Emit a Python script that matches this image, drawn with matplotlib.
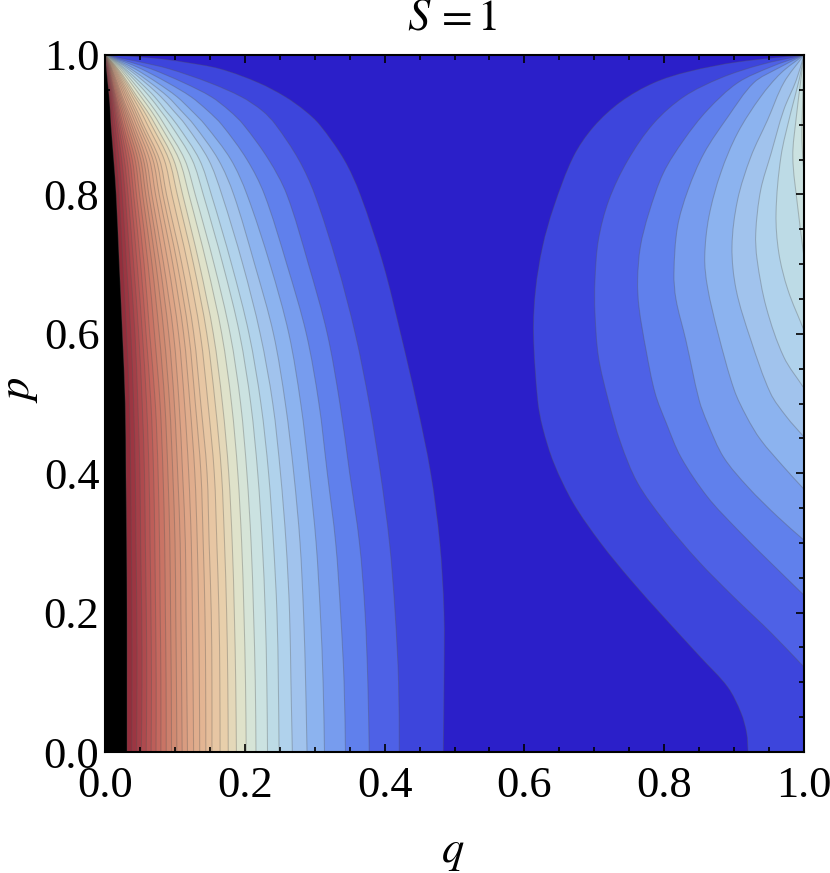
import numpy as np
import matplotlib
matplotlib.use("Agg")
import matplotlib.pyplot as plt
from matplotlib.colors import LinearSegmentedColormap
from matplotlib.path import Path
from matplotlib.patches import PathPatch

plt.rcParams['font.family'] = ['Liberation Serif', 'DejaVu Serif']
plt.rcParams['mathtext.fontset'] = 'stix'

# contour levels read as guide lines on the left side, darkest blue outwards
guide_levels = [1, 2, 3, 4, 5, 6, 7, 8, 10, 12, 15, 19, 24, 28, 31]

# q of each guide contour, one list per row of p
row_p = [0.0, 0.1, 0.2, 0.3, 0.4, 0.5, 0.6, 0.7, 0.8, 0.85, 0.9, 0.92, 0.94, 0.96, 0.98, 0.99, 0.995, 1.0]
q_p000 = [.484, .421, .378, .344, .314, .289, .268, .249, .216, .188, .153, .118, .080, .052, .0315]
q_p010 = [.485, .420, .376, .342, .312, .287, .266, .248, .215, .187, .153, .117, .080, .053, .0315]
q_p020 = [.485, .415, .372, .337, .308, .284, .264, .246, .2125, .185, .152, .116, .079, .0525, .0315]
q_p030 = [.479, .407, .364, .330, .302, .279, .259, .241, .209, .182, .149, .115, .078, .051, .031]
q_p040 = [.466, .394, .350, .318, .292, .270, .251, .234, .203, .177, .146, .111, .076, .050, .030]
q_p050 = [.446, .378, .336, .306, .280, .258, .240, .223, .194, .168, .137, .106, .072, .047, .029]
q_p060 = [.423, .358, .318, .288, .263, .241, .222, .206, .179, .155, .127, .098, .064, .043, .025]
q_p070 = [.398, .332, .291, .260, .236, .214, .197, .181, .156, .135, .110, .084, .056, .036, .0205]
q_p080 = [.365, .300, .260, .228, .203, .184, .167, .152, .129, .111, .088, .067, .045, .029, .016]
q_p085 = [.342, .277, .234, .203, .180, .162, .148, .135, .114, .098, .078, .059, .039, .024, .0125]
q_p090 = [.307, .244, .198, .167, .143, .127, .115, .103, .085, .072, .055, .041, .026, .017, .0086]
q_p092 = [.286, .225, .178, .147, .124, .109, .098, .087, .072, .060, .046, .033, .021, .014, .0075]
q_p094 = [.258, .195, .152, .123, .103, .090, .080, .071, .057, .046, .036, .025, .016, .011, .006]
q_p096 = [.220, .150, .113, .090, .075, .065, .058, .051, .041, .033, .026, .018, .011, .0075, .004]
q_p098 = [.165, .092, .066, .052, .043, .037, .033, .029, .024, .019, .015, .010, .0065, .004, .002]
q_p099 = [.112, .050, .035, .028, .023, .020, .018, .016, .013, .010, .008, .0055, .0035, .002, .001]
q_p0995 = [.0745, .025, .018, .014, .012, .010, .009, .008, .0065, .005, .004, .0028, .0018, .001, .0005]
q_p100 = [.012, .004, .003, .0025, .002, .0018, .0016, .0014, .0012, .001, .0008, .0006, .0004, .0002, .0001]
left_rows = [q_p000, q_p010, q_p020, q_p030, q_p040, q_p050, q_p060, q_p070, q_p080,
             q_p085, q_p090, q_p092, q_p094, q_p096, q_p098, q_p099, q_p0995, q_p100]

# contours on the right side, from where they start up to the corner (1, 1)
r1_q = [.920, .918, .910, .891, .852, .799, .752, .709, .670, .642, .626, .619, .613, .616, .626, .642, .670, .699, .738, .785, .834, .905, 1.0]
r1_p = [0, .027, .056, .093, .136, .194, .247, .300, .357, .415, .466, .505, .601, .663, .725, .782, .854, .897, .933, .960, .976, .990, 1.0]
r2_q = [1.0, .953, .900, .848, .799, .762, .738, .720, .706, .701, .701, .706, .721, .748, .785, .828, .881, .938, 1.0]
r2_p = [.122, .171, .222, .275, .333, .386, .443, .505, .567, .630, .677, .735, .792, .849, .902, .940, .967, .986, 1.0]
r3_q = [1.0, .953, .905, .862, .824, .803, .787, .774, .764, .762, .766, .778, .799, .828, .862, .905, .953, 1.0]
r3_p = [.225, .271, .319, .366, .423, .472, .515, .577, .638, .677, .725, .773, .831, .878, .921, .960, .983, 1.0]
r4_q = [1.0, .963, .920, .885, .862, .850, .831, .817, .814, .819, .834, .857, .891, .928, .963, 1.0]
r4_p = [.304, .337, .380, .423, .472, .505, .591, .649, .687, .753, .806, .859, .911, .960, .981, 1.0]
r5_q = [1.0, .971, .938, .918, .900, .877, .862, .858, .864, .881, .905, .938, .967, 1.0]
r5_p = [.377, .409, .448, .481, .520, .601, .667, .710, .768, .831, .888, .940, .974, 1.0]
r6_q = [1.0, .975, .952, .924, .903, .897, .905, .924, .948, .971, 1.0]
r6_p = [.452, .481, .515, .591, .663, .725, .792, .854, .907, .960, 1.0]
r7_q = [1.0, .971, .946, .933, .931, .938, .953, .971, .989, 1.0]
r7_p = [.522, .567, .638, .706, .745, .806, .859, .921, .964, 1.0]
r8_q = [1.0, .977, .964, .960, .967, .981, .993, 1.0]
r8_p = [.605, .663, .716, .773, .854, .917, .964, 1.0]
r9_q = [1.0, .991, .984, .989, .996, 1.0]
r9_p = [.710, .782, .854, .911, .968, 1.0]
r10_q = [1.0, .997, .998, 1.0]
r10_p = [.830, .878, .930, 1.0]
right_contours = [(r1_q, r1_p), (r2_q, r2_p), (r3_q, r3_p), (r4_q, r4_p), (r5_q, r5_p),
                  (r6_q, r6_p), (r7_q, r7_p), (r8_q, r8_p), (r9_q, r9_p), (r10_q, r10_p)]

# band number and its colour in the picture
color_bands = [0, 1, 2, 3, 4, 5, 6, 7, 8, 9, 10, 11, 13, 15, 18, 21, 24, 27, 29, 31]
color_values = ['#2b1fc9', '#3d46dd', '#4f63e6', '#6283ec', '#779cee', '#8cb3ef', '#a2c4ed',
                '#b1d3ec', '#bddbe6', '#cbe2e1', '#d6e4d7', '#e0e2c9', '#e8cfab', '#e5bd9a',
                '#dea587', '#d08a72', '#c5695f', '#ae4a4e', '#9c3642', '#8b2636']

ticks = [0.0, 0.2, 0.4, 0.6, 0.8, 1.0]
tick_labels = ['0.0', '0.2', '0.4', '0.6', '0.8', '1.0']
minor_ticks = [0.05, 0.1, 0.15, 0.25, 0.3, 0.35, 0.45, 0.5, 0.55, 0.65, 0.7, 0.75, 0.85, 0.9, 0.95]

n_band = 31
cmap = LinearSegmentedColormap.from_list(
    'bands', [(b / n_band, c) for b, c in zip(color_bands, color_values)])
band_colors = [cmap(i / n_band) for i in range(n_band)] + ['black']
line_color = (0.33, 0.33, 0.33, 0.33)


def curve_through(q, p):
    # bezier segments that pass through the read points
    pts = np.column_stack([q, p])
    d = np.diff(pts, axis=0)
    seg = np.hypot(d[:, 0], d[:, 1])
    tan = np.zeros_like(pts)
    tan[1:-1] = (pts[2:] - pts[:-2]) / (seg[:-1] + seg[1:])[:, None]
    tan[0] = d[0] / seg[0]
    tan[-1] = d[-1] / seg[-1]
    verts = [pts[0]]
    codes = [Path.MOVETO]
    for i in range(len(seg)):
        verts += [pts[i] + tan[i] * seg[i] / 3, pts[i + 1] - tan[i + 1] * seg[i] / 3, pts[i + 1]]
        codes += [Path.CURVE4] * 3
    return verts, codes


def draw_band(ax, q, p, color, corners):
    verts, codes = curve_through(q, p)
    fill = Path(verts + corners + [verts[0]],
                codes + [Path.LINETO] * len(corners) + [Path.CLOSEPOLY])
    ax.add_patch(PathPatch(fill, facecolor=color, edgecolor='none', linewidth=0))
    ax.add_patch(PathPatch(Path(verts, codes), facecolor='none', edgecolor=line_color, linewidth=0.75))


fig = plt.figure(figsize=(8.3, 8.73), dpi=100)
ax = fig.add_axes([105 / 830, 1 - 752 / 873, 699 / 830, 697 / 873])
ax.set_facecolor(band_colors[0])

for level in range(1, n_band + 1):
    level_q = [np.interp(level, guide_levels, row) for row in left_rows]
    draw_band(ax, level_q, row_p, band_colors[level], [(0, 1), (0, 0)])

for i, (rq, rp) in enumerate(right_contours):
    corners = [(1, 1), (1, rp[0])]
    draw_band(ax, rq, rp, band_colors[i + 1], corners)

ax.set_xlim(0, 1)
ax.set_ylim(0, 1)
ax.set_xticks(ticks)
ax.set_xticklabels(tick_labels)
ax.set_yticks(ticks)
ax.set_yticklabels(tick_labels)
ax.set_xticks(minor_ticks, minor=True)
ax.set_yticks(minor_ticks, minor=True)
ax.tick_params(which='both', direction='in', top=True, right=True, width=1.2, color='black')
ax.tick_params(which='major', length=6, labelsize=32)
ax.tick_params(axis='x', which='major', pad=10)
ax.tick_params(axis='y', which='major', pad=4)
ax.tick_params(which='minor', length=3.5)
for s in ax.spines.values():
    s.set_linewidth(1.5)

fig.text(452 / 830, 1 - 19 / 873, r'$S\,=1$', fontsize=32, ha='center', va='center')
fig.text(453 / 830, 1 - 853 / 873, r'$q$', fontsize=32, ha='center', va='center')
fig.text(20 / 830, 1 - 390 / 873, r'$p$', fontsize=32, ha='center', va='center', rotation=90)

fig.savefig('out.png', dpi=100)
